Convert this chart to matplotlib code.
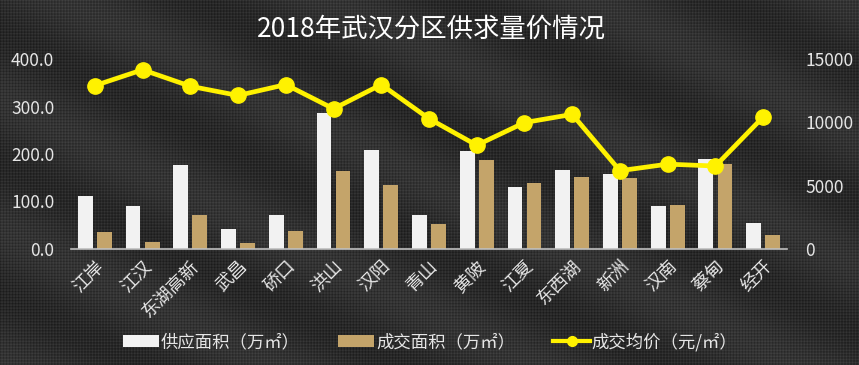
import numpy as np
import matplotlib
matplotlib.use("Agg")
import matplotlib.pyplot as plt
from matplotlib.lines import Line2D
from matplotlib.patches import Patch

plt.rcParams['font.family'] = ['Noto Sans CJK SC', 'DejaVu Sans']

categories = ['江岸', '江汉', '东湖高新', '武昌', '硚口', '洪山', '汉阳', '青山',
              '黄陂', '江夏', '东西湖', '新洲', '汉南', '蔡甸', '经开']
supply = [111, 91, 177, 42, 71, 287, 209, 71, 206, 130, 167, 157, 91, 189, 55]
deal = [36, 15, 72, 13, 37, 164, 135, 52, 187, 138, 152, 149, 93, 178, 29]
price = [12900, 14150, 12850, 12120, 12980, 11070, 12980, 10290, 8190, 9980,
         10630, 6180, 6700, 6550, 10420]
left_ticks = [0, 100, 200, 300, 400]
right_ticks = [0, 5000, 10000, 15000]

W, H = 859, 365
fig = plt.figure(figsize=(W / 100, H / 100), dpi=100)
fig.patch.set_facecolor('#2a2a2a')

# background texture (deterministic diagonal weave)
bg = fig.add_axes([0, 0, 1, 1], zorder=-10)
yy, xx = np.mgrid[0:H, 0:W]
tex = 0.18 + 0.05 * np.sin((xx + yy) * 2.1) * np.sin((xx - yy) * 2.1) \
      + 0.025 * np.sin((xx * 0.6 - yy * 1.2) / 25.0)
bg.imshow(tex, cmap='gray', vmin=0, vmax=1, aspect='auto', interpolation='nearest')
bg.axis('off')

ax = fig.add_axes([71 / W, 1 - 249 / H, (787 - 71) / W, (249 - 59) / H])
ax.set_facecolor('none')
ax2 = ax.twinx()

x = np.arange(len(categories))
bw = 0.31
ax.bar(x - 0.2, supply, width=bw, color='#F2F2F2', zorder=2)
ax.bar(x + 0.2, deal, width=bw, color='#C4A46A', zorder=2)
ax2.plot(x, price, color='#FFF200', lw=3.4, marker='o', markersize=11,
         markerfacecolor='#FFF200', markeredgecolor='#FFF200', zorder=3)

ax.set_xlim(-0.5, len(categories) - 0.5)
ax.set_ylim(0, 400)
ax2.set_ylim(0, 15000)
ax.set_yticks(left_ticks)
ax.set_yticklabels([f'{v:.1f}' for v in left_ticks])
ax2.set_yticks(right_ticks)
ax2.set_yticklabels([str(v) for v in right_ticks])
ax.set_xticks(x)
ax.set_xticklabels(categories, rotation=45, ha='right', rotation_mode='anchor')

for a in (ax, ax2):
    for s in a.spines.values():
        s.set_visible(False)
    a.tick_params(length=0, colors='#E6E6E6', labelsize=12.5)
ax.spines['bottom'].set_visible(True)
ax.spines['bottom'].set_color('#BFBFBF')
ax.spines['bottom'].set_linewidth(1.2)
ax.tick_params(axis='x', labelsize=13, pad=6)
ax.tick_params(axis='y', pad=12)
ax2.tick_params(axis='y', pad=13)

fig.text(431 / W, 1 - 29 / H, '2018年武汉分区供求量价情况', ha='center', va='center',
         color='white', fontsize=19)

handles = [Patch(facecolor='#F2F2F2'), Patch(facecolor='#C4A46A'),
           Line2D([], [], color='#FFF200', lw=3, marker='o', markersize=7)]
labels = ['供应面积（万㎡）', '成交面积（万㎡）', '成交均价（元/㎡）']
leg = fig.legend(handles, labels, loc='center', bbox_to_anchor=(430 / W, 1 - 342 / H),
                 ncol=3, frameon=False, fontsize=12.5, handlelength=2.1,
                 columnspacing=2.2, handletextpad=0.1)
for t in leg.get_texts():
    t.set_color('#E6E6E6')

fig.savefig('out.png', dpi=100, facecolor=fig.get_facecolor())
